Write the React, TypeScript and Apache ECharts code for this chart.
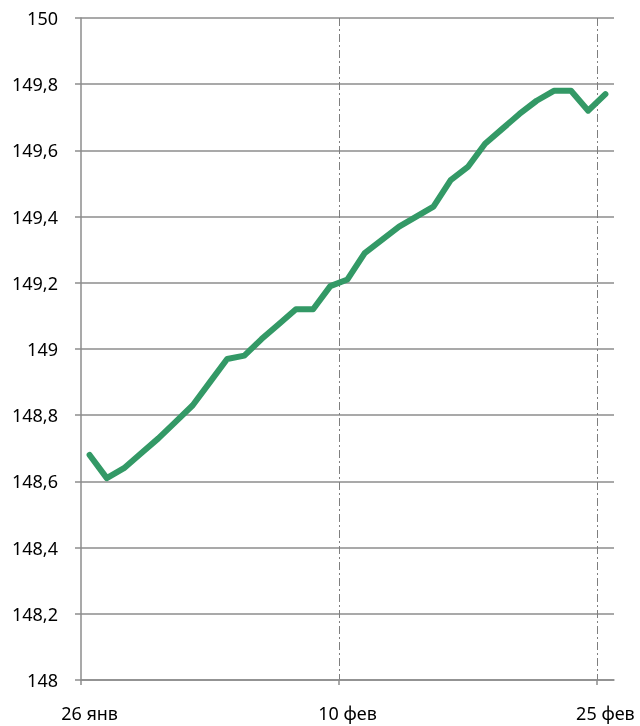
import React, { useEffect, useRef } from "react";
import * as echarts from "echarts";

const dates: string[] = [
  "26 янв", "27 янв", "28 янв", "29 янв", "30 янв", "31 янв",
  "1 фев", "2 фев", "3 фев", "4 фев", "5 фев", "6 фев", "7 фев", "8 фев", "9 фев",
  "10 фев", "11 фев", "12 фев", "13 фев", "14 фев", "15 фев", "16 фев", "17 фев",
  "18 фев", "19 фев", "20 фев", "21 фев", "22 фев", "23 фев", "24 фев", "25 фев",
];

const rates: number[] = [
  148.68, 148.61, 148.64, 148.685, 148.73, 148.78, 148.83, 148.9, 148.97, 148.98,
  149.03, 149.075, 149.12, 149.12, 149.19, 149.21, 149.29, 149.33, 149.37, 149.4,
  149.43, 149.51, 149.55, 149.62, 149.665, 149.71, 149.75, 149.78, 149.78, 149.72,
  149.77,
];

const labelIndices: number[] = [0, 15, 30];
const yMin = 148;
const yMax = 150;
const yStep = 0.2;

const FONT = "Noto Sans";
const GRID = "#8c8c8c";

export default function App() {
  const ref = useRef<HTMLDivElement>(null);

  useEffect(() => {
    if (!ref.current) return;
    const chart = echarts.init(ref.current, undefined, { renderer: "svg" });
    chart.setOption({
      animation: false,
      grid: { left: 81, right: 26, top: 18, bottom: 46, containLabel: false },
      xAxis: {
        type: "value",
        min: -0.5,
        max: dates.length - 0.5,
        axisLine: { show: true, onZero: false, lineStyle: { color: GRID, width: 1.5 } },
        axisTick: {
          show: true,
          length: 5,
          customValues: labelIndices.map((i) => i - 0.5),
          lineStyle: { color: GRID, width: 1.5 },
        },
        axisLabel: {
          customValues: labelIndices,
          formatter: (v: number) => dates[Math.round(v)] ?? "",
          margin: 24,
          fontFamily: FONT,
          fontSize: 18,
          color: "#000",
        },
        splitLine: {
          show: true,
          showMinLine: false,
          showMaxLine: true,
          lineStyle: { color: "#7f7f7f", width: 1, type: [8, 3, 2, 3] },
        },
      },
      yAxis: {
        type: "value",
        min: yMin,
        max: yMax,
        interval: yStep,
        axisLine: { show: true, onZero: false, lineStyle: { color: GRID, width: 1.5 } },
        axisTick: { show: true, length: 6, lineStyle: { color: GRID, width: 1.5 } },
        axisLabel: {
          margin: 23,
          fontFamily: FONT,
          fontSize: 18,
          color: "#000",
          formatter: (v: number) => String(Math.round(v * 10) / 10).replace(".", ","),
        },
        splitLine: { show: true, lineStyle: { color: GRID, width: 1.5 } },
      },
      series: [
        {
          type: "line",
          data: rates.map((v, i) => [i, v]),
          showSymbol: false,
          symbol: "none",
          lineStyle: { color: "#339966", width: 6, cap: "round", join: "round" },
        },
      ],
    });
    return () => chart.dispose();
  }, []);

  return (
    <div
      ref={ref}
      style={{ position: "fixed", left: 0, top: 0, width: 640, height: 726 }}
    />
  );
}
